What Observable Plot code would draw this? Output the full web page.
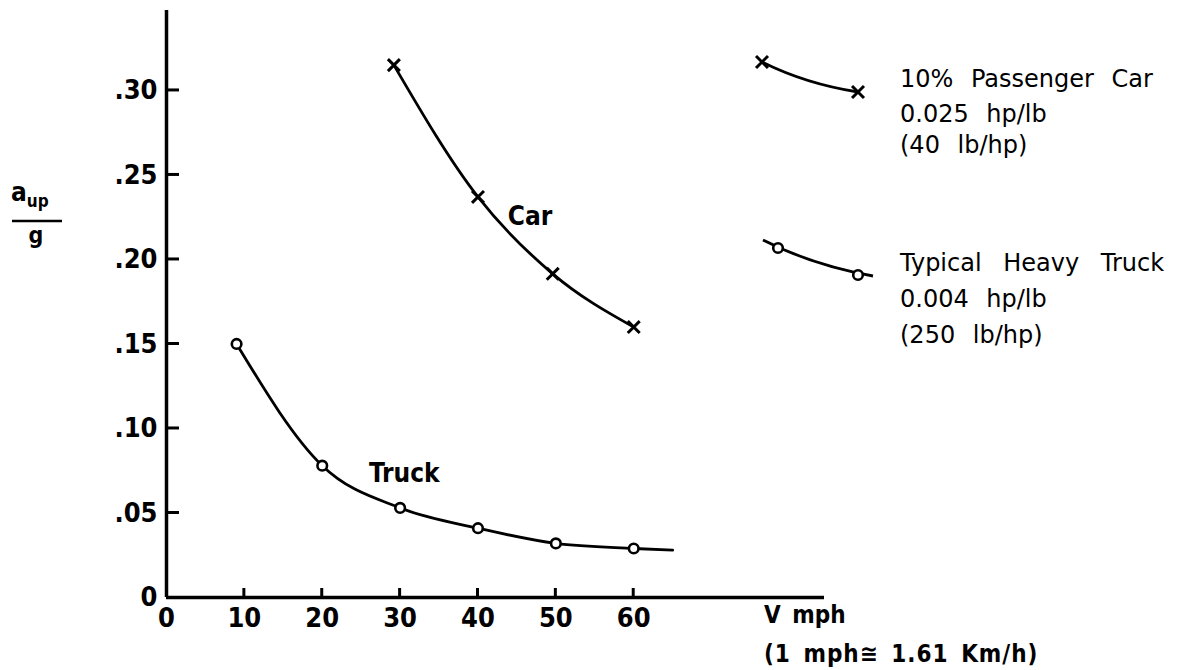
<!DOCTYPE html>
<html><head><meta charset="utf-8">
<script src="https://cdn.jsdelivr.net/npm/d3@7"></script>
<script src="https://cdn.jsdelivr.net/npm/@observablehq/plot@0.6"></script>
<style>
body{margin:0;background:#fff;}
#wrap{position:relative;width:1190px;height:670px;overflow:hidden;background:#fff;}
#wrap > svg{position:absolute;left:0;top:0;}
</style></head><body><div id="wrap"></div>
<script>
// ---- data ----
const carSpeeds   = [29.2, 40, 49.6, 60];
const carAccel    = [0.315, 0.237, 0.1915, 0.160];
const truckSpeeds = [9, 20, 30, 40, 50, 60];
const truckAccel  = [0.150, 0.078, 0.053, 0.041, 0.032, 0.029];
const truckTailSpeed = 65;     // truck curve is drawn a little past the last point
const truckTailAccel = 0.028;
const xTicks = [0, 10, 20, 30, 40, 50, 60];
const yTicks = [0, 0.05, 0.10, 0.15, 0.20, 0.25, 0.30];
const legendTitles = ["10% Passenger Car", "Typical Heavy Truck"];
const legendLines2 = ["0.025 hp/lb", "0.004 hp/lb"];
const legendLines3 = ["(40 lb/hp)", "(250 lb/hp)"];
const seriesLabels = ["Car", "Truck"];
const xTitle = "V mph";
const xNote = "(1 mph\u2245 1.61 Km/h)";

const car = carSpeeds.map((x, i) => ({x, y: carAccel[i]}));
const truck = truckSpeeds.map((x, i) => ({x, y: truckAccel[i]}));
const truckLine = [...truck, {x: truckTailSpeed, y: truckTailAccel}];

const FONT = "'DejaVu Sans Condensed','DejaVu Sans',sans-serif";
const LFONT = "'DejaVu Sans',sans-serif";
const SW = 2.8;

const W = 1190, H = 670, ML = 166, MR = 366, MT = 10, MB = 73;
const X_MAX = 84.5, Y_MAX = 0.3473;
const X_TICK = 9, Y_TICK = 13;              // inward tick lengths in pixels

const plot = Plot.plot({
  width: W, height: H,
  marginLeft: ML, marginRight: MR, marginTop: MT, marginBottom: MB,
  x: {domain: [0, X_MAX]},
  y: {domain: [0, Y_MAX]},
  style: {background: "transparent", color: "#000", fontFamily: FONT},
  marks: [
    Plot.ruleY([0], {strokeWidth: 3.5}),
    Plot.ruleX([0], {strokeWidth: 3.5}),
    Plot.axisX(xTicks, {tickSize: 0, tickPadding: 10, fontSize: 27, fontWeight: "bold", tickFormat: d => String(d), label: null}),
    Plot.axisY(yTicks, {anchor: "left", tickSize: 0, tickPadding: 9, fontSize: 27, fontWeight: "bold", label: null,
      tickFormat: d => d === 0 ? "0" : d3.format(".2f")(d).slice(1)}),
    Plot.line(car, {x: "x", y: "y", curve: "monotone-x", strokeWidth: SW}),
    Plot.line(truckLine, {x: "x", y: "y", curve: "monotone-x", strokeWidth: SW}),
    Plot.dot(car, {x: "x", y: "y", symbol: "times", r: 5.5, stroke: "#000", strokeWidth: 3}),
    Plot.dot(truck, {x: "x", y: "y", r: 4.8, stroke: "#000", fill: "#fff", strokeWidth: 2.6}),
    Plot.text(car.filter(d => d.x === 40), {x: "x", y: "y", text: () => seriesLabels[0], dx: 52, dy: 20, fontSize: 26, fontWeight: "bold"}),
    Plot.text(truck.filter(d => d.x === 20), {x: "x", y: "y", text: () => seriesLabels[1], dx: 82, dy: 8, fontSize: 26, fontWeight: "bold"})
  ]
});
document.getElementById("wrap").appendChild(plot);
const sx = plot.scale("x"), sy = plot.scale("y");

// ---- overlay: inward ticks, y label, x title, legend ----
const ov = d3.select("#wrap").append("svg")
  .attr("width", W).attr("height", H)
  .style("font-family", FONT).style("pointer-events", "none");

// inward ticks placed with the plot's own scales
const x0 = sx.apply(0), y0 = sy.apply(0);
ov.selectAll("line.xt").data(xTicks.filter(d => d > 0)).join("line").attr("class", "xt")
  .attr("x1", d => sx.apply(d)).attr("x2", d => sx.apply(d))
  .attr("y1", y0).attr("y2", y0 - X_TICK)
  .attr("stroke", "#000").attr("stroke-width", 3);
ov.selectAll("line.yt").data(yTicks.filter(d => d > 0)).join("line").attr("class", "yt")
  .attr("y1", d => sy.apply(d)).attr("y2", d => sy.apply(d))
  .attr("x1", x0).attr("x2", x0 + Y_TICK)
  .attr("stroke", "#000").attr("stroke-width", 3);

// y label  a_up / g
const yl = ov.append("text").attr("x", 11).attr("y", 201).attr("font-weight", "bold").attr("font-size", 26);
yl.append("tspan").text("a");
yl.append("tspan").attr("font-size", 17).attr("dy", 6).text("up");
ov.append("line").attr("x1", 12).attr("x2", 62).attr("y1", 221).attr("y2", 221).attr("stroke", "#000").attr("stroke-width", 2.5);
ov.append("text").attr("x", 36).attr("y", 243).attr("text-anchor", "middle").attr("font-weight", "bold").attr("font-size", 23).text("g");

// x title
ov.append("text").attr("x", 764).attr("y", 623).attr("font-weight", "bold").attr("font-size", 24).attr("word-spacing", 4).text(xTitle);
ov.append("text").attr("x", 764).attr("y", 662).attr("font-weight", "bold").attr("font-size", 24).attr("word-spacing", 4).attr("letter-spacing", 1).text(xNote);

// legend
const legend = [
  {path: "M762,62 Q806,84 858,92", marks: [[762, 62], [858, 92]], symbol: "times", tx: 900, ty: [87, 122, 153]},
  {path: "M763,240 Q812,265 873,276", marks: [[778, 248], [858, 275]], symbol: "circle", tx: 900, ty: [271, 307, 343]}
];
legend.forEach((L, i) => {
  ov.append("path").attr("d", L.path).attr("fill", "none").attr("stroke", "#000").attr("stroke-width", SW);
  L.marks.forEach(([mx, my]) => {
    if (L.symbol === "times") {
      ov.append("path").attr("transform", `translate(${mx},${my})`)
        .attr("d", d3.symbol(d3.symbolTimes, 5.5 * 5.5 * Math.PI)())
        .attr("fill", "none").attr("stroke", "#000").attr("stroke-width", 3);
    } else {
      ov.append("circle").attr("cx", mx).attr("cy", my).attr("r", 4.8)
        .attr("fill", "#fff").attr("stroke", "#000").attr("stroke-width", 2.6);
    }
  });
  [legendTitles[i], legendLines2[i], legendLines3[i]].forEach((t, j) => {
    ov.append("text").attr("x", L.tx).attr("y", L.ty[j]).attr("font-size", 24)
      .style("font-family", LFONT).attr("word-spacing", i === 1 && j === 0 ? 14 : 10).text(t);
  });
});
</script></body></html>
